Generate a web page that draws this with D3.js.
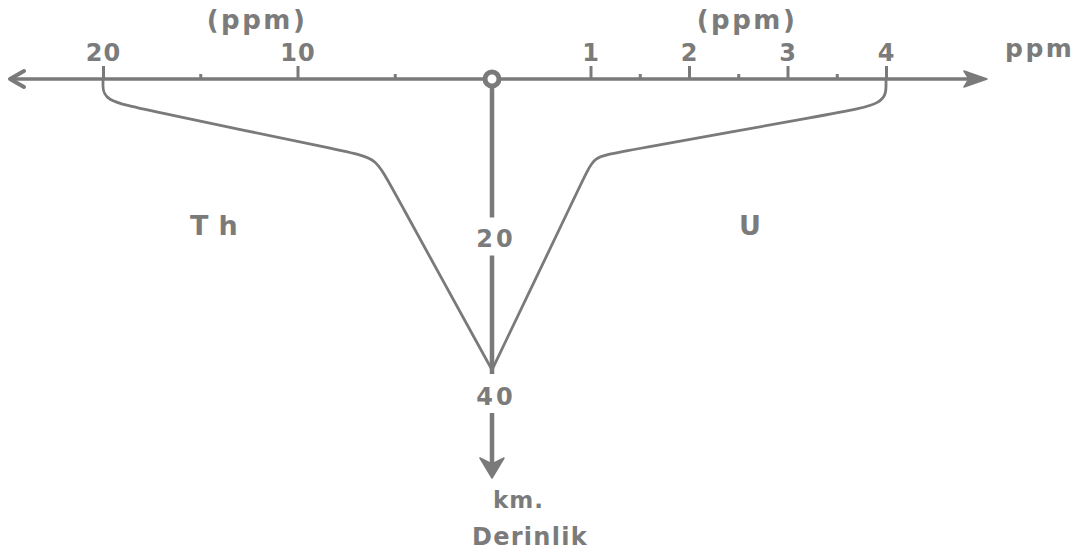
<!DOCTYPE html>
<html>
<head>
<meta charset="utf-8">
<script src="https://cdn.jsdelivr.net/npm/d3@7"></script>
<style>
  html, body { margin: 0; padding: 0; background: #fff; }
  svg { display: block; }
  text { font-family: "DejaVu Sans", sans-serif; font-weight: bold; fill: #7b7b7b; }
</style>
</head>
<body>
<svg id="chart" width="1075" height="556"></svg>
<script>
// Thorium (left) and uranium (right) abundance versus depth
const thMajorTicks = [20, 10];
const thMinorTicks = [15, 5];
const uMajorTicks = [1, 2, 3, 4];
const uMinorTicks = [1.5, 2.5, 3.5];
const depthLabels = [20, 40];

// Traced points along each profile (ppm, depth in km)
const thPpm   = [20, 20, 20, 17.8, 7.2, 5.95, 5.2, 0];
const thDepth = [0, 0.6, 2.7, 3.9, 9.3, 10.0, 13.5, 36.7];
const uPpm    = [4, 4, 4, 3.5, 1.25, 1.03, 0.93, 0];
const uDepth  = [0, 0.6, 3.15, 4.3, 9.3, 9.8, 12.6, 36.7];

const ink = "#7a7a7a";
const svg = d3.select("#chart");

const xTh = d3.scaleLinear().domain([0, 20]).range([492, 103]);
const xU  = d3.scaleLinear().domain([0, 4]).range([492, 886]);
const y   = d3.scaleLinear().domain([0, 40]).range([79, 396]);

const x0 = xTh(0), y0 = y(0);

// horizontal ppm axis with arrowheads
svg.append("line")
  .attr("x1", 12).attr("x2", 982).attr("y1", y0).attr("y2", y0)
  .attr("stroke", ink).attr("stroke-width", 3.5);
svg.append("path")
  .attr("d", `M${10},${y0} L${24},${y0 - 8} M${10},${y0} L${24},${y0 + 8}`)
  .attr("stroke", ink).attr("stroke-width", 4).attr("fill", "none")
  .attr("stroke-linecap", "round");
svg.append("path")
  .attr("d", `M${987},${y0} L${964},${y0 - 8} L${969},${y0} L${964},${y0 + 8} Z`)
  .attr("fill", ink).attr("stroke", ink).attr("stroke-width", 1.5).attr("stroke-linejoin", "round");

function styleAxis(g) {
  g.select(".domain").remove();
  g.selectAll(".tick line").attr("stroke", ink).attr("stroke-width", 3);
  g.selectAll(".tick text")
    .attr("fill", "#7b7b7b").attr("font-size", 24)
    .attr("font-family", "DejaVu Sans, sans-serif")
    .attr("font-weight", "bold")
    .attr("letter-spacing", 1);
}

const axTh = svg.append("g").attr("transform", `translate(0,${y0})`)
  .call(d3.axisTop(xTh).tickValues(thMajorTicks).tickSize(13).tickPadding(5).tickFormat(d3.format("d")));
styleAxis(axTh);
const axThMinor = svg.append("g").attr("transform", `translate(0,${y0})`)
  .call(d3.axisTop(xTh).tickValues(thMinorTicks).tickSize(5).tickFormat(""));
styleAxis(axThMinor);

const axU = svg.append("g").attr("transform", `translate(0,${y0})`)
  .call(d3.axisTop(xU).tickValues(uMajorTicks).tickSize(13).tickPadding(5).tickFormat(d3.format("d")));
styleAxis(axU);
const axUMinor = svg.append("g").attr("transform", `translate(0,${y0})`)
  .call(d3.axisTop(xU).tickValues(uMinorTicks).tickSize(5).tickFormat(""));
styleAxis(axUMinor);

// unit captions
svg.append("text").attr("x", 257).attr("y", 29).attr("text-anchor", "middle")
  .attr("font-size", 26).attr("letter-spacing", 2.5).text("(ppm)");
svg.append("text").attr("x", 747).attr("y", 29).attr("text-anchor", "middle")
  .attr("font-size", 26).attr("letter-spacing", 2.5).text("(ppm)");
svg.append("text").attr("x", 1005).attr("y", 57)
  .attr("font-size", 25).attr("letter-spacing", 2.5).text("ppm");

// vertical depth axis
const tipY = 478;
svg.append("line")
  .attr("x1", x0).attr("x2", x0).attr("y1", y0).attr("y2", tipY - 10)
  .attr("stroke", ink).attr("stroke-width", 4.5);
svg.append("path")
  .attr("d", `M${x0},${tipY} L${x0 - 12},${tipY - 20} L${x0},${tipY - 14} L${x0 + 12},${tipY - 20} Z`)
  .attr("fill", ink).attr("stroke", ink).attr("stroke-width", 1.5).attr("stroke-linejoin", "round");

// profiles
const line = d3.line().curve(d3.curveBasis);
const thPts = thPpm.map((v, i) => [xTh(v), y(thDepth[i])]);
const uPts  = uPpm.map((v, i) => [xU(v), y(uDepth[i])]);
[thPts, uPts].forEach(pts => {
  svg.append("path").attr("d", line(pts))
    .attr("fill", "none").attr("stroke", ink).attr("stroke-width", 2.8)
    .attr("stroke-linejoin", "round");
});

// depth labels sit in gaps of the axis
depthLabels.forEach(d => {
  svg.append("rect").attr("x", x0 - 22).attr("y", y(d) - (d === 40 ? 22 : 20))
    .attr("width", 44).attr("height", d === 40 ? 39 : 38).attr("fill", "#fff");
  svg.append("text").attr("x", x0 + 4).attr("y", y(d) + 1)
    .attr("text-anchor", "middle").attr("dominant-baseline", "central")
    .attr("font-size", 24).attr("letter-spacing", 3).text(d);
});

// origin marker
svg.append("circle").attr("cx", x0).attr("cy", y0).attr("r", 7)
  .attr("fill", "#fff").attr("stroke", ink).attr("stroke-width", 5);

// element names
svg.append("text").attr("x", 190).attr("y", 235)
  .attr("font-size", 27).attr("letter-spacing", 10).text("Th");
svg.append("text").attr("x", 739).attr("y", 235)
  .attr("font-size", 27).text("U");

// depth unit and caption
svg.append("text").attr("x", 493).attr("y", 508)
  .attr("font-size", 23).attr("letter-spacing", 1).text("km.");
svg.append("text").attr("x", 530).attr("y", 545).attr("text-anchor", "middle")
  .attr("font-size", 24).attr("letter-spacing", 1.3).text("Derinlik");
</script>
</body>
</html>
